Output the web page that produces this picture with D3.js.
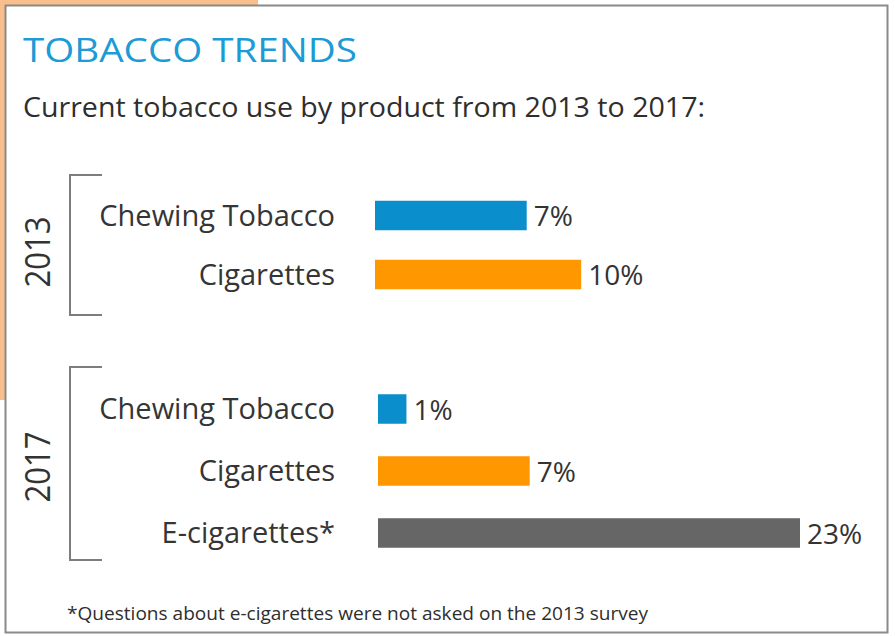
<!DOCTYPE html>
<html>
<head>
<meta charset="utf-8">
<script src="https://cdn.jsdelivr.net/npm/d3@7"></script>
<style>
  html, body { margin: 0; padding: 0; background: #fff; }
  svg { display: block; }
  text { font-family: "Open Sans", "Noto Sans", sans-serif; font-weight: 500; }
</style>
</head>
<body>
<svg id="chart" width="895" height="636"></svg>
<script>
// ---- data ----
const titleText = "TOBACCO TRENDS";
const subtitleText = "Current tobacco use by product from 2013 to 2017:";
const footnoteText = "*Questions about e-cigarettes were not asked on the 2013 survey";

const years = ["2013", "2017"];
const products2013 = ["Chewing Tobacco", "Cigarettes"];
const values2013 = [7, 10];
const products2017 = ["Chewing Tobacco", "Cigarettes", "E-cigarettes*"];
const values2017 = [1, 7, 23];
const productColors = {
  "Chewing Tobacco": "#0b8fcc",
  "Cigarettes": "#ff9700",
  "E-cigarettes*": "#666666"
};

// ---- drawing ----
const svg = d3.select("#chart");

// peach backdrop corner
svg.append("rect").attr("x", 0).attr("y", 0).attr("width", 258).attr("height", 6).attr("fill", "#f8bf8d");
svg.append("rect").attr("x", 0).attr("y", 0).attr("width", 6).attr("height", 400).attr("fill", "#f8bf8d");

// frame
svg.append("rect")
  .attr("x", 5.5).attr("y", 5.5)
  .attr("width", 882).attr("height", 627)
  .attr("fill", "#fff")
  .attr("stroke", "#8a8a8a").attr("stroke-width", 2);

// titles
svg.append("text")
  .attr("x", 23).attr("y", 62)
  .attr("font-size", 32)
  .attr("fill", "#1c9bd6")
  .attr("textLength", 334).attr("lengthAdjust", "spacingAndGlyphs")
  .text(titleText);

svg.append("text")
  .attr("x", 23).attr("y", 117)
  .attr("font-size", 28)
  .attr("fill", "#2e2e2e")
  .attr("textLength", 682).attr("lengthAdjust", "spacingAndGlyphs")
  .text(subtitleText);

svg.append("text")
  .attr("x", 67).attr("y", 620)
  .attr("font-size", 18)
  .attr("fill", "#2e2e2e")
  .attr("textLength", 581).attr("lengthAdjust", "spacingAndGlyphs")
  .text(footnoteText);

// value scale (shared by both groups)
const x = d3.scalePow().exponent(0.86).domain([0, 23]).range([0, 422]);
const barH = 29.5;

const groups = [
  { year: years[0], products: products2013, values: values2013,
    bracket: [175, 315], rows: [215.5, 274.5], x0: 375, yearY: 252 },
  { year: years[1], products: products2017, values: values2017,
    bracket: [367, 560], rows: [409, 533], x0: 378, yearY: 467 }
];

groups.forEach(g => {
  const y = d3.scalePoint().domain(g.products).range(g.rows);
  const G = svg.append("g");

  // bracket
  G.append("path")
    .attr("d", `M102,${g.bracket[0]}H70V${g.bracket[1]}H102`)
    .attr("fill", "none")
    .attr("stroke", "#7d7d7d").attr("stroke-width", 2);

  // year label
  G.append("text")
    .attr("transform", `translate(38,${g.yearY}) rotate(-90)`)
    .attr("text-anchor", "middle")
    .attr("dy", "0.35em")
    .attr("font-size", 34)
    .attr("fill", "#333")
    .attr("textLength", 71).attr("lengthAdjust", "spacingAndGlyphs")
    .text(g.year);

  const data = g.products.map((p, i) => ({ p, v: g.values[i] }));

  // category labels
  G.selectAll("text.cat").data(data).join("text")
    .attr("class", "cat")
    .attr("x", 335)
    .attr("y", d => y(d.p))
    .attr("dy", "0.35em")
    .attr("text-anchor", "end")
    .attr("font-size", 29)
    .attr("fill", "#353535")
    .text(d => d.p);

  // bars
  G.selectAll("rect.bar").data(data).join("rect")
    .attr("class", "bar")
    .attr("x", g.x0)
    .attr("y", d => y(d.p) - barH / 2)
    .attr("width", d => x(d.v))
    .attr("height", barH)
    .attr("fill", d => productColors[d.p]);

  // value labels
  G.selectAll("text.val").data(data).join("text")
    .attr("class", "val")
    .attr("x", d => g.x0 + x(d.v) + 7)
    .attr("y", d => y(d.p))
    .attr("dy", "0.38em")
    .attr("font-size", 28)
    .attr("fill", "#333")
    .text(d => d.v + "%");
});
</script>
</body>
</html>
